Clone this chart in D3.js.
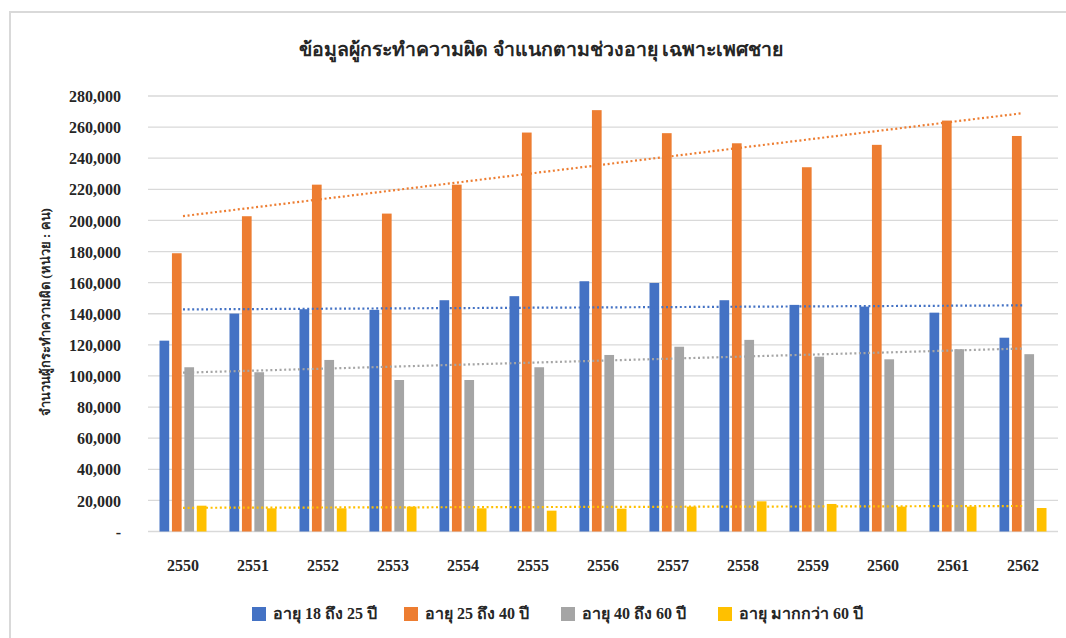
<!DOCTYPE html>
<html>
<head>
<meta charset="utf-8">
<script src="https://cdn.jsdelivr.net/npm/d3@7"></script>
<style>
  html, body { margin: 0; padding: 0; background: #fff; }
  svg { display: block; }
  text { font-family: "Liberation Serif", "Times New Roman", serif; fill: #262626; }
</style>
</head>
<body>
<svg id="chart" width="1066" height="638"></svg>
<script>
// Buddhist-era years on the category axis
const years = ["2550", "2551", "2552", "2553", "2554", "2555", "2556",
               "2557", "2558", "2559", "2560", "2561", "2562"];

// Male offenders per age band (persons)
const age18to25 = [122700, 140100, 142900, 142500, 148700, 151300, 160900,
                   159800, 148700, 145700, 144600, 140700, 124600];
const age25to40 = [178900, 202700, 223000, 204400, 223000, 256500, 270900,
                   256100, 249600, 234200, 248600, 264200, 254300];
const age40to60 = [105600, 102400, 110300, 97400, 97400, 105600, 113500,
                   118800, 123200, 112400, 110700, 117200, 114000];
const ageOver60 = [16600, 14900, 14900, 16000, 14900, 13400, 14700,
                   16000, 19400, 17700, 16000, 16000, 15100];

const seriesNames = ["อายุ 18 ถึง 25 ปี", "อายุ 25 ถึง 40 ปี",
                     "อายุ 40 ถึง 60 ปี", "อายุ มากกว่า 60 ปี"];
const seriesValues = [age18to25, age25to40, age40to60, ageOver60];
const seriesColors = ["#4472C4", "#ED7D31", "#A5A5A5", "#FFC000"];

const yTicks = [0, 20000, 40000, 60000, 80000, 100000, 120000, 140000,
                160000, 180000, 200000, 220000, 240000, 260000, 280000];

const titleText = "ข้อมูลผู้กระทำความผิด จำแนกตามช่วงอายุ เฉพาะเพศชาย";
const yTitleText = "จำนวนผู้กระทำความผิด (หน่วย : คน)";

const svg = d3.select("#chart");

// Outer frame (top and left edges)
svg.append("path")
  .attr("d", "M10,638 L10,12 L1066,12")
  .attr("fill", "none")
  .attr("stroke", "#d9d9d9")
  .attr("stroke-width", 2);

const plot = { left: 148, right: 1058, top: 96, bottom: 531.5 };

const x0 = d3.scaleBand().domain(years).range([plot.left, plot.right]).padding(0);
const groupPad = 11.5;
const x1 = d3.scaleBand()
  .domain(d3.range(seriesNames.length))
  .range([groupPad, x0.bandwidth() - groupPad])
  .paddingInner(0.22)
  .paddingOuter(0);
const y = d3.scaleLinear().domain([0, 280000]).range([plot.bottom, plot.top]);

// Horizontal gridlines
svg.append("g")
  .selectAll("line")
  .data(yTicks)
  .join("line")
  .attr("x1", plot.left).attr("x2", plot.right)
  .attr("y1", d => y(d)).attr("y2", d => y(d))
  .attr("stroke", "#d9d9d9")
  .attr("stroke-width", 1.3);

// Y axis labels
const yAxis = d3.axisLeft(y)
  .tickValues(yTicks)
  .tickSize(0)
  .tickPadding(0)
  .tickFormat(d => d === 0 ? "-" : d3.format(",")(d));
const yg = svg.append("g")
  .attr("transform", `translate(121,0)`)
  .call(yAxis);
yg.select(".domain").remove();
yg.selectAll("text")
  .style("font-size", "16px")
  .style("font-weight", "bold")
  .attr("dy", "0.35em");

// X axis labels
const xAxis = d3.axisBottom(x0).tickSize(0).tickPadding(0);
const xg = svg.append("g")
  .attr("transform", `translate(0,560)`)
  .call(xAxis);
xg.select(".domain").remove();
xg.selectAll("text")
  .style("font-size", "16px")
  .style("font-weight", "bold");

// Bars
const groups = svg.append("g")
  .selectAll("g")
  .data(years)
  .join("g")
  .attr("transform", d => `translate(${x0(d)},0)`);

groups.selectAll("rect")
  .data((yr, i) => seriesValues.map((vals, s) => ({ s, v: vals[i] })))
  .join("rect")
  .attr("x", d => x1(d.s))
  .attr("width", x1.bandwidth())
  .attr("y", d => y(d.v))
  .attr("height", d => y(0) - y(d.v))
  .attr("fill", d => seriesColors[d.s]);

// Linear trendlines (least squares over category index)
const line = d3.line()
  .x(d => x0(years[d[0]]) + x0.bandwidth() / 2)
  .y(d => y(d[1]));

seriesValues.forEach((vals, s) => {
  const n = vals.length;
  const xs = d3.range(n);
  const mx = d3.mean(xs), my = d3.mean(vals);
  const slope = d3.sum(xs, i => (i - mx) * (vals[i] - my)) / d3.sum(xs, i => (i - mx) ** 2);
  const icpt = my - slope * mx;
  svg.append("path")
    .datum([[0, icpt], [n - 1, icpt + slope * (n - 1)]])
    .attr("d", line)
    .attr("fill", "none")
    .attr("stroke", seriesColors[s])
    .attr("stroke-width", 2.2)
    .attr("stroke-dasharray", "2 2.6");
});

// Title
svg.append("text")
  .attr("x", 541)
  .attr("y", 56)
  .attr("text-anchor", "middle")
  .style("font-size", "19.5px")
  .style("font-weight", "bold")
  .text(titleText);

// Y axis title
svg.append("text")
  .attr("transform", "translate(50,312) rotate(-90)")
  .attr("text-anchor", "middle")
  .style("font-size", "13px")
  .style("font-weight", "bold")
  .text(yTitleText);

// Legend
const legendX = [252, 404, 561, 718];
const legend = svg.append("g")
  .selectAll("g")
  .data(seriesNames)
  .join("g")
  .attr("transform", (d, i) => `translate(${legendX[i]},607)`);
legend.append("rect")
  .attr("width", 14).attr("height", 14)
  .attr("fill", (d, i) => seriesColors[i]);
legend.append("text")
  .attr("x", 21).attr("y", 12)
  .style("font-size", "16px")
  .style("font-weight", "bold")
  .text(d => d);
</script>
</body>
</html>
